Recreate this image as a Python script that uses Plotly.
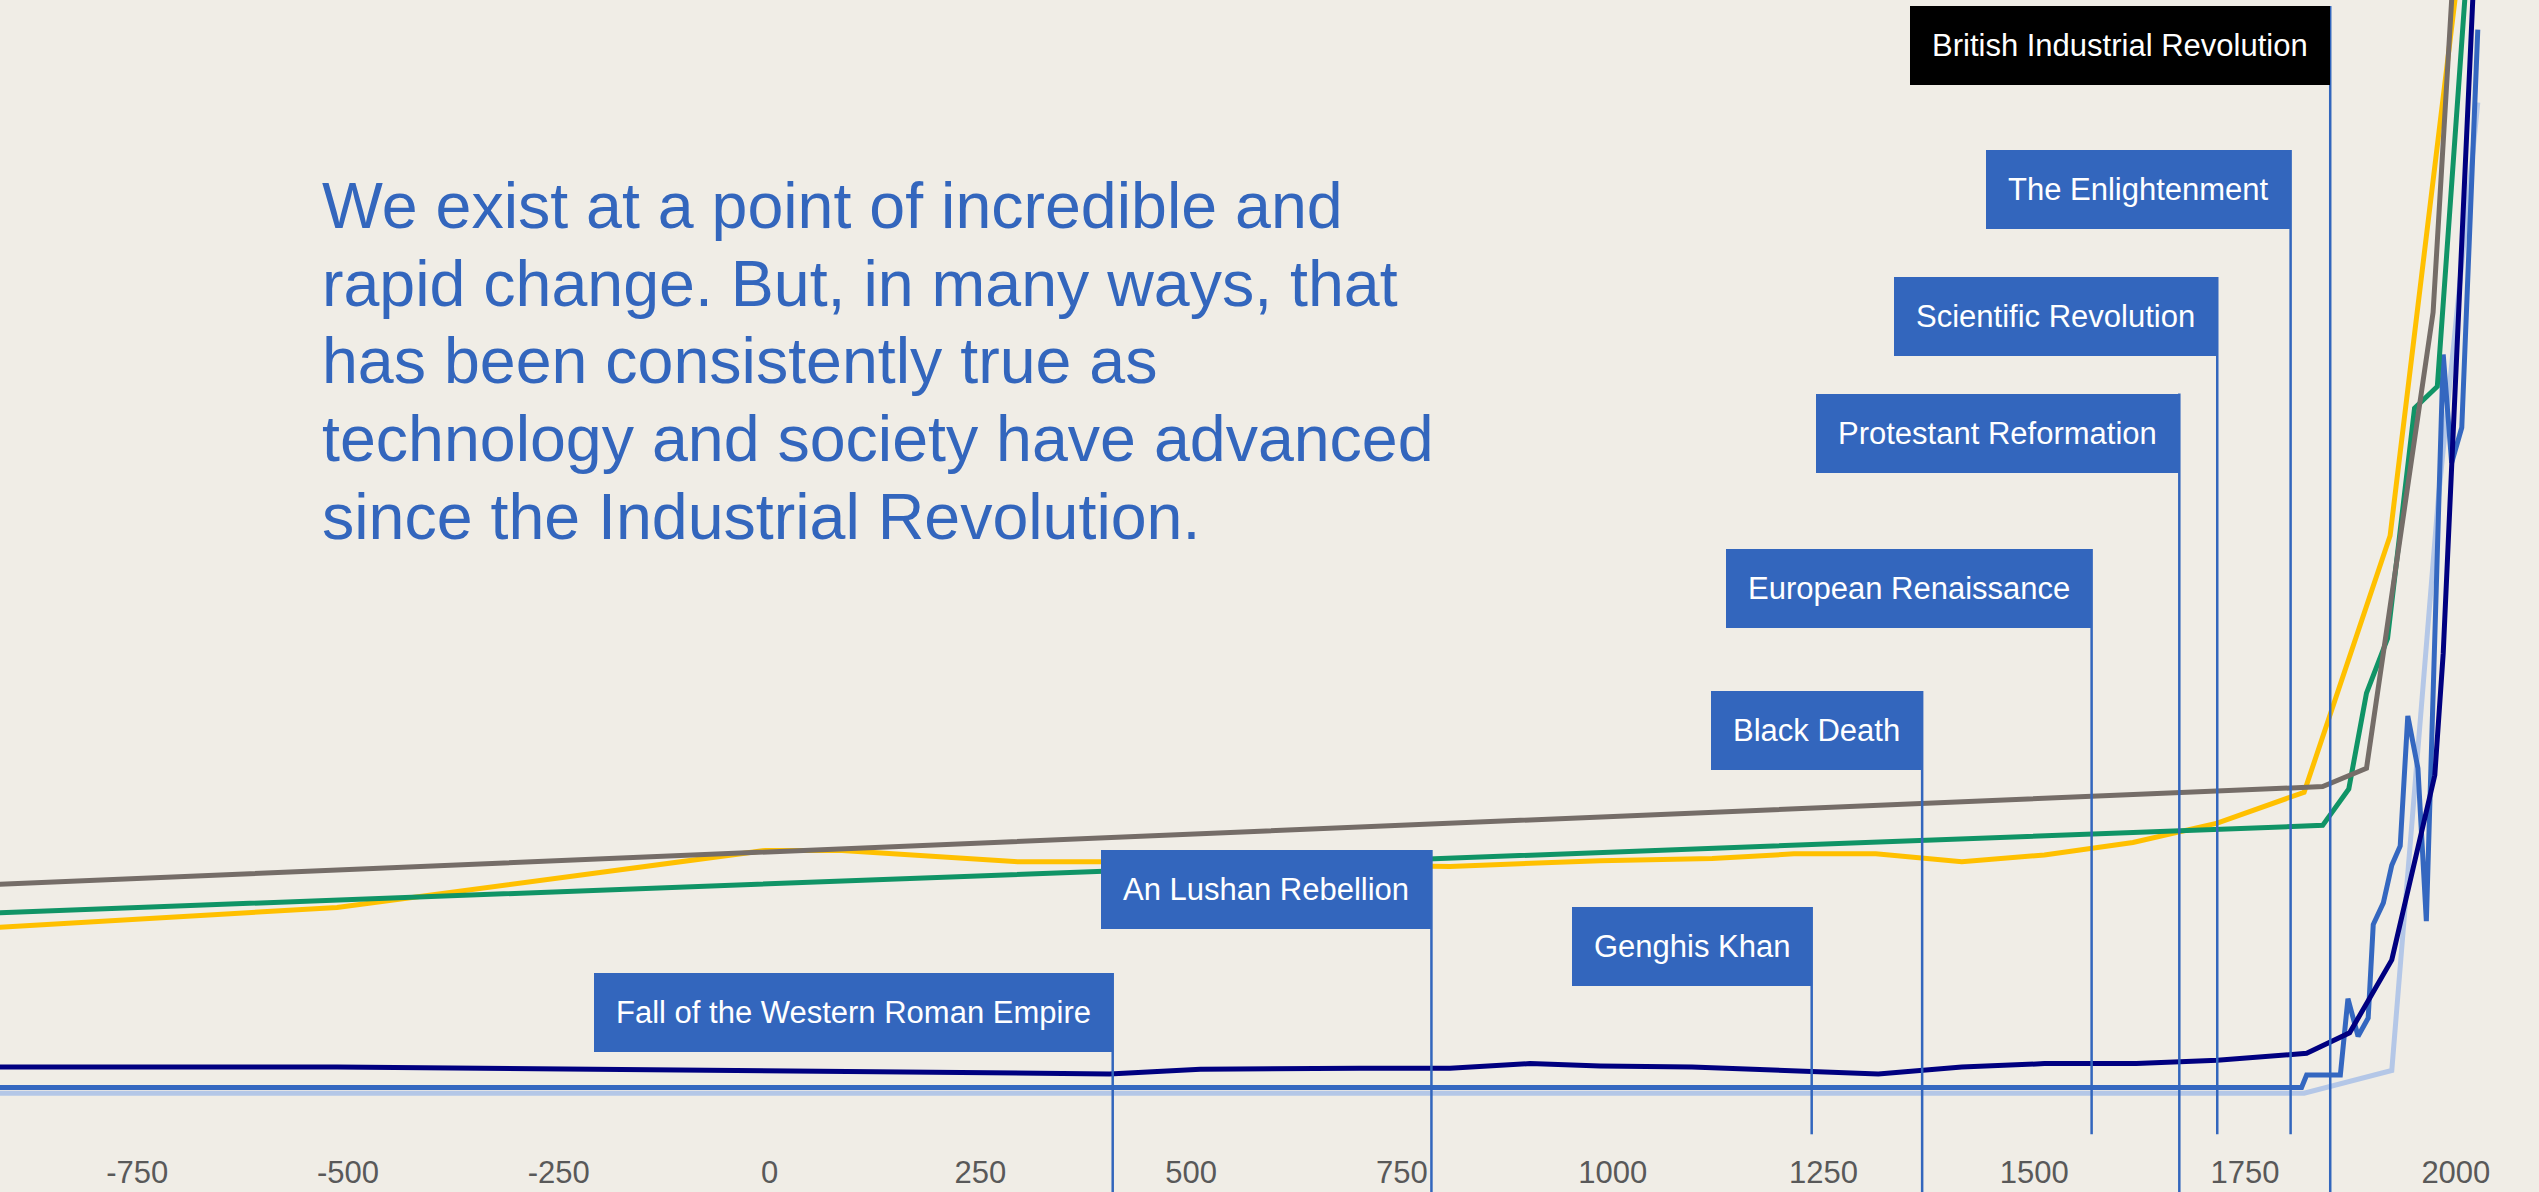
import plotly.graph_objects as go

# ---------------- data (years on x, relative index on y) ----------------
grey_x = [-925, 1842, 1894, 1973, 1995, 2007]
grey_y = [22.4, 31.0, 32.6, 72.6, 100.0, 108.8]

green_x = [-925, 1842, 1873, 1894, 1919, 1951, 1978, 2011, 2019]
green_y = [19.9, 27.6, 30.8, 39.2, 44.0, 64.2, 66.1, 100.0, 108.8]

yellow_x = [-925, -513, -5, 86, 295, 392, 807, 985, 1118, 1215, 1312, 1414,
            1512, 1617, 1717, 1820, 1922, 1999, 2013]
yellow_y = [18.6, 20.4, 25.4, 25.4, 24.4, 24.4, 24.0, 24.5, 24.7, 25.1, 25.1,
            24.4, 25.0, 26.1, 27.8, 30.5, 53.0, 100.0, 108.6]

navy_x = [-925, -513, 403, 511, 700, 807, 902, 985, 1094, 1233, 1315, 1414,
          1512, 1621, 1717, 1823, 1874, 1924, 1975, 1985, 1993, 2020, 2027]
navy_y = [6.4, 6.4, 5.8, 6.2, 6.3, 6.3, 6.7, 6.5, 6.4, 6.0, 5.8, 6.4,
          6.7, 6.7, 7.0, 7.6, 9.4, 15.8, 32.0, 42.7, 56.1, 100.0, 111.4]

blue_x = [-925, 1817, 1823, 1863, 1872, 1884, 1896, 1902, 1914, 1924, 1934,
          1943, 1955, 1965, 1985, 1995, 2007, 2026]
blue_y = [4.6, 4.6, 5.7, 5.7, 12.4, 9.1, 10.7, 18.9, 20.8, 24.1, 25.8,
          37.2, 32.6, 19.2, 68.9, 59.4, 62.5, 97.4]

lightblue_x = [-925, 1820, 1924, 1979, 2026]
lightblue_y = [4.1, 4.1, 6.1, 56.1, 91.0]

event_names = ["Fall of the Western Roman Empire", "An Lushan Rebellion",
               "Genghis Khan", "Black Death", "European Renaissance",
               "Protestant Reformation", "Scientific Revolution",
               "The Enlightenment", "British Industrial Revolution"]
event_years = [407, 785, 1236, 1367, 1568, 1672, 1717, 1804, 1851]

tick_vals = [-750, -500, -250, 0, 250, 500, 750, 1000, 1250, 1500, 1750, 2000]
tick_text = ["-750", "-500", "-250", "0", "250", "500", "750", "1000",
             "1250", "1500", "1750", "2000"]

headline_lines = ["We exist at a point of incredible and",
                  "rapid change. But, in many ways, that",
                  "has been consistently true as",
                  "technology and society have advanced",
                  "since the Industrial Revolution."]

# ---------------- layout / style ----------------
W, H = 2539, 1192
BG = "#F0EDE6"
BLUE = "#3366BD"
FONT = "Liberation Sans, Arial, sans-serif"

box_top = [0.1465, 0.2544, 0.2044, 0.3939, 0.5184, 0.6548, 0.7570, 0.8684, 0.9947]
line_bottom = [-0.046, -0.046, 0.005, -0.046, 0.005, -0.046, 0.005, 0.005, -0.046]
box_color = [BLUE] * 8 + ["#000000"]

head_y = [0.8195, 0.7513, 0.6832, 0.6150, 0.5468]

fig = go.Figure()

series = [
    (lightblue_x, lightblue_y, "#B4C7E7", 5),
    (blue_x, blue_y, "#3467C0", 5),
    (navy_x, navy_y, "#000080", 5),
    (yellow_x, yellow_y, "#FFC000", 5),
    (green_x, green_y, "#109466", 5),
    (grey_x, grey_y, "#756D68", 5),
]
for xs, ys, col, w in series:
    fig.add_trace(go.Scatter(x=xs, y=ys, mode="lines",
                             line=dict(color=col, width=w),
                             hoverinfo="skip", showlegend=False))

for name, yr, top, bot, col in zip(event_names, event_years, box_top,
                                   line_bottom, box_color):
    fig.add_shape(type="line", xref="x", yref="paper", x0=yr, x1=yr,
                  y0=bot, y1=top, line=dict(color=BLUE, width=2.5))
    fig.add_annotation(xref="x", yref="paper", x=yr, y=top,
                       xanchor="right", yanchor="top", text=name,
                       showarrow=False, bgcolor=col, borderpad=22,
                       borderwidth=0,
                       font=dict(family=FONT, size=31, color="white"))

for line, yy in zip(headline_lines, head_y):
    fig.add_annotation(xref="paper", yref="paper", x=320 / W, y=yy,
                       xanchor="left", yanchor="middle", text=line,
                       showarrow=False, align="left",
                       font=dict(family=FONT, size=64.5, color=BLUE))

fig.update_layout(
    width=W, height=H,
    margin=dict(l=0, r=0, t=0, b=52, pad=0),
    paper_bgcolor=BG, plot_bgcolor=BG,
    showlegend=False,
    xaxis=dict(range=[-912.7, 2098.6], tickvals=tick_vals, ticktext=tick_text,
               showgrid=False, zeroline=False, showline=False, ticks="",
               ticklabelstandoff=11,
               tickfont=dict(family=FONT, size=31, color="#595959")),
    yaxis=dict(range=[0, 100], visible=False),
)

fig.write_html("out.html", config={"displayModeBar": False},
               post_script="document.body.style.margin='0';document.body.style.overflow='hidden';")
